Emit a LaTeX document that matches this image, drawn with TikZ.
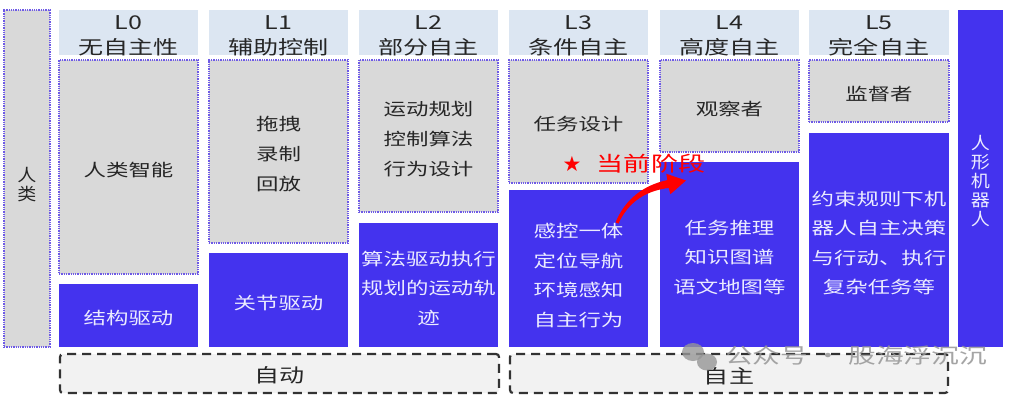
\documentclass[tikz,border=0pt]{standalone}
\usepackage{fontspec}
\usetikzlibrary{arrows.meta}
\newfontfamily\cjk[FakeStretch=1.32]{Noto Sans CJK SC}
\newfontfamily\cjkv[FakeStretch=1.12]{Noto Sans CJK SC}
\newfontfamily\symf{DejaVu Sans}
\definecolor{rblue}{RGB}{68,51,238}
\definecolor{rgray}{RGB}{217,217,217}
\definecolor{rhead}{RGB}{220,230,242}
\definecolor{rdot}{RGB}{110,90,230}
\definecolor{rtext}{RGB}{235,235,255}
\definecolor{rdash}{RGB}{51,51,51}
\definecolor{rfill}{RGB}{242,242,242}
\definecolor{rwm}{RGB}{150,150,150}
\begin{document}
\begin{tikzpicture}[x=1pt,y=-1pt,
  every node/.style={inner sep=0pt,outer sep=0pt},
  sz/.style 2 args={minimum width=#1,minimum height=#2},
  cell/.style={anchor=north west},
  gbox/.style={cell, fill=rgray, draw=rdot, line width=1.3pt, densely dotted},
  bbox/.style={cell, fill=rblue},
  hbox/.style={cell, fill=rhead},
  gtxt/.style={align=center, yshift=-3pt, font=\cjk\fontsize{17}{30}\selectfont, text=black!85},
  btxt/.style={align=center, yshift=-3pt, font=\cjk\fontsize{17}{29.5}\selectfont, text=rtext},
  htxt/.style={align=center, yshift=-3pt, font=\cjk\fontsize{19}{25}\selectfont, text=black!85},
  vtext/.style={align=center, font=\cjkv\fontsize{17}{19}\selectfont},
  grp/.style={anchor=north west, fill=rfill, draw=rdash, line width=2.2pt, dash pattern=on 9pt off 6pt, rounded corners=3pt},
]
\useasboundingbox[fill=white] (0,0) rectangle (1017,402);

% left and right columns
\node[gbox, sz={46}{337}] (human) at (4,10) {};
\node[vtext, text=black!85, yshift=-6pt] (humant) at (human.center) {人\\类};
\node[bbox, sz={45}{337}] (robot) at (958,10) {};
\node[vtext, text=rtext, yshift=-3pt] (robott) at (robot.center) {人\\形\\机\\器\\人};

% headers
\node[hbox, sz={139}{45}] (h0) at (59,10) {};
\node[hbox, sz={139}{45}] (h1) at (209,10) {};
\node[hbox, sz={139}{45}] (h2) at (359,10) {};
\node[hbox, sz={139}{45}] (h3) at (509,10) {};
\node[hbox, sz={139}{45}] (h4) at (660,10) {};
\node[hbox, sz={140}{45}] (h5) at (809,10) {};
\node[htxt] (h0t) at (h0.center) {L0\\无自主性};
\node[htxt] (h1t) at (h1.center) {L1\\辅助控制};
\node[htxt] (h2t) at (h2.center) {L2\\部分自主};
\node[htxt] (h3t) at (h3.center) {L3\\条件自主};
\node[htxt] (h4t) at (h4.center) {L4\\高度自主};
\node[htxt] (h5t) at (h5.center) {L5\\完全自主};

% gray (human role) boxes
\node[gbox, sz={139}{214}] (g0) at (59,60) {};
\node[gbox, sz={139}{183}] (g1) at (209,60) {};
\node[gbox, sz={139}{152}] (g2) at (359,60) {};
\node[gbox, sz={139}{123}] (g3) at (509,60) {};
\node[gbox, sz={139}{92}] (g4) at (660,60) {};
\node[gbox, sz={140}{62}] (g5) at (809,60) {};
\node[gtxt] (g0t) at (g0.center) {人类智能};
\node[gtxt] (g1t) at (g1.center) {拖拽\\录制\\回放};
\node[gtxt] (g2t) at (g2.center) {运动规划\\控制算法\\行为设计};
\node[gtxt] (g3t) at (g3.center) {任务设计};
\node[gtxt] (g4t) at (g4.center) {观察者};
\node[gtxt] (g5t) at (g5.center) {监督者};

% blue (robot) boxes
\node[bbox, sz={139}{63}] (b0) at (59,284) {};
\node[bbox, sz={139}{94}] (b1) at (209,253) {};
\node[bbox, sz={139}{124}] (b2) at (359,223) {};
\node[bbox, sz={139}{157}] (b3) at (509,190) {};
\node[bbox, sz={139}{185}] (b4) at (660,162) {};
\node[bbox, sz={140}{214}] (b5) at (809,133) {};
\node[btxt] (b0t) at (b0.center) {结构驱动};
\node[btxt] (b1t) at (b1.center) {关节驱动};
\node[btxt] (b2t) at (b2.center) {算法驱动执行\\规划的运动轨\\迹};
\node[btxt, yshift=-4pt] (b3t) at (b3.center) {感控一体\\定位导航\\环境感知\\自主行为};
\node[btxt] (b4t) at (b4.center) {任务推理\\知识图谱\\语文地图等};
\node[btxt] (b5t) at (b5.center) {约束规则下机\\器人自主决策\\与行动、执行\\复杂任务等};

% groups
\node[grp, sz={439}{39}] (auto) at (60,354) {};
\node[grp, sz={438}{39}] (autonomy) at (510,354) {};
\node[htxt, yshift=1pt] (autot) at (auto.center) {自动};
\node[htxt] (autonomyt) at (autonomy.center) {自主};

% current stage
\node[text=red, font=\symf\fontsize{21}{21}\selectfont] (star) at (572,164) {★};
\node[text=red, font=\cjk\fontsize{20.5}{22}\selectfont] (stage) at (651,164) {当前阶段};
% tapered curved arrow
\fill[red] (618.4,223.6) .. controls (629,201) and (646,191) .. (668.7,187.9)
  -- (670.4,194.2) -- (686,180.5) -- (666.3,173.8) -- (667.3,180.1)
  .. controls (644,185) and (625,199) .. (615.6,222.4) -- cycle;

% watermark
\fill[rwm, opacity=0.8] (693,352) ellipse (11pt and 9pt);
\fill[rwm, opacity=0.8] (707,362) ellipse (10pt and 8.5pt);
\node[text=rwm, opacity=0.85, font=\cjk\fontsize{21}{22}\selectfont] (wm) at (856,355) {公众号 · 股海浮沉沉};
\end{tikzpicture}
\end{document}
